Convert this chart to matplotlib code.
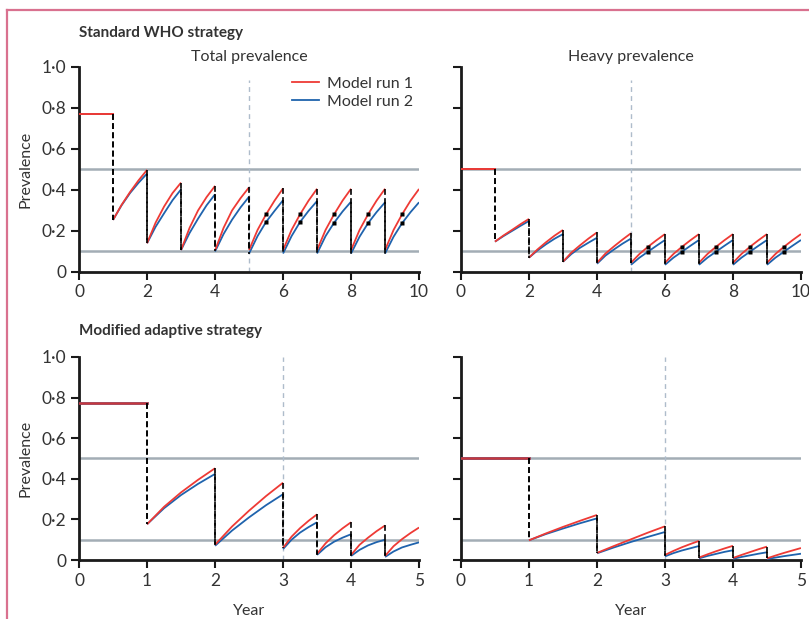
import numpy as np
import matplotlib
matplotlib.use("Agg")
import matplotlib.pyplot as plt
from matplotlib.lines import Line2D
from matplotlib.ticker import FuncFormatter

plt.rcParams['font.family'] = ['Lato', 'DejaVu Sans']

# ---------------- data ----------------
legend_labels = ["Model run 1", "Model run 2"]
panel_titles = ["Total prevalence", "Heavy prevalence"]
row_titles = ["Standard WHO strategy", "Modified adaptive strategy"]
thresholds = [0.5, 0.1]

# Standard WHO strategy (years 0-10)
who_flat_total = 0.77
who_flat_heavy = 0.50
who_seg_times = [1, 2, 3, 4, 5, 6, 7, 8, 9, 10]
who_total_run1 = [
    [0.254, 0.327, 0.390, 0.447, 0.498],
    [0.140, 0.240, 0.319, 0.385, 0.436],
    [0.107, 0.215, 0.300, 0.365, 0.420],
    [0.105, 0.215, 0.300, 0.360, 0.413],
    [0.107, 0.205, 0.281, 0.348, 0.408],
    [0.107, 0.205, 0.281, 0.348, 0.406],
    [0.107, 0.205, 0.281, 0.348, 0.406],
    [0.107, 0.205, 0.281, 0.348, 0.406],
    [0.107, 0.205, 0.281, 0.348, 0.405],
]
who_total_run2 = [
    [0.254, 0.325, 0.385, 0.435, 0.480],
    [0.140, 0.220, 0.286, 0.350, 0.403],
    [0.107, 0.190, 0.260, 0.325, 0.379],
    [0.100, 0.185, 0.255, 0.315, 0.367],
    [0.090, 0.175, 0.244, 0.298, 0.350],
    [0.090, 0.175, 0.244, 0.298, 0.346],
    [0.090, 0.175, 0.240, 0.295, 0.343],
    [0.090, 0.172, 0.238, 0.292, 0.340],
    [0.090, 0.172, 0.238, 0.292, 0.340],
]
who_heavy_run1 = [
    [0.148, 0.178, 0.205, 0.233, 0.259],
    [0.070, 0.110, 0.145, 0.177, 0.205],
    [0.050, 0.095, 0.130, 0.163, 0.193],
    [0.045, 0.090, 0.125, 0.158, 0.189],
    [0.045, 0.088, 0.123, 0.155, 0.185],
    [0.045, 0.088, 0.123, 0.155, 0.185],
    [0.045, 0.088, 0.123, 0.155, 0.185],
    [0.045, 0.088, 0.123, 0.155, 0.185],
    [0.045, 0.088, 0.123, 0.155, 0.185],
]
who_heavy_run2 = [
    [0.148, 0.175, 0.200, 0.225, 0.249],
    [0.070, 0.105, 0.135, 0.162, 0.185],
    [0.050, 0.088, 0.118, 0.143, 0.167],
    [0.040, 0.080, 0.110, 0.138, 0.163],
    [0.035, 0.070, 0.099, 0.128, 0.156],
    [0.035, 0.070, 0.099, 0.128, 0.156],
    [0.035, 0.070, 0.099, 0.128, 0.156],
    [0.035, 0.070, 0.099, 0.128, 0.156],
    [0.035, 0.070, 0.099, 0.128, 0.156],
]
who_dot_times = [5.5, 6.5, 7.5, 8.5, 9.5]
who_switch_year = 5

# Modified adaptive strategy (years 0-5)
mod_flat_total = 0.775
mod_flat_heavy = 0.50
mod_seg_times = [1, 2, 3, 3.5, 4, 4.5, 5]
mod_total_run1 = [
    [0.176, 0.262, 0.333, 0.395, 0.452],
    [0.075, 0.165, 0.243, 0.315, 0.381],
    [0.060, 0.115, 0.157, 0.193, 0.225],
    [0.030, 0.082, 0.122, 0.156, 0.186],
    [0.025, 0.075, 0.110, 0.142, 0.170],
    [0.020, 0.068, 0.103, 0.133, 0.160],
]
mod_total_run2 = [
    [0.176, 0.255, 0.320, 0.375, 0.424],
    [0.070, 0.145, 0.210, 0.270, 0.324],
    [0.054, 0.100, 0.135, 0.162, 0.186],
    [0.025, 0.063, 0.090, 0.110, 0.127],
    [0.020, 0.050, 0.072, 0.088, 0.100],
    [0.015, 0.042, 0.062, 0.075, 0.087],
]
mod_heavy_run1 = [
    [0.097, 0.131, 0.163, 0.193, 0.222],
    [0.035, 0.069, 0.102, 0.135, 0.166],
    [0.025, 0.045, 0.063, 0.079, 0.094],
    [0.012, 0.028, 0.043, 0.057, 0.070],
    [0.010, 0.025, 0.039, 0.053, 0.066],
    [0.008, 0.022, 0.035, 0.047, 0.059],
]
mod_heavy_run2 = [
    [0.097, 0.128, 0.155, 0.181, 0.205],
    [0.033, 0.062, 0.089, 0.114, 0.138],
    [0.018, 0.034, 0.047, 0.058, 0.069],
    [0.008, 0.020, 0.030, 0.040, 0.048],
    [0.006, 0.015, 0.023, 0.031, 0.038],
    [0.005, 0.012, 0.019, 0.025, 0.031],
]
mod_switch_year = 3

# ---------------- style ----------------
RED = '#ee3a35'
DARKRED = '#c8373d'
BLUE = '#1f63ad'
GREY = '#a3adb5'
VGREY = '#aebccb'
TXT = '#333333'
AX = '#1a1a1a'

fig = plt.figure(figsize=(8.09, 6.19), dpi=100)

W = 0.4203
positions = {
    (0, 0): [0.0977, 0.5606, W, 0.3312],
    (0, 1): [0.5698, 0.5606, W, 0.3312],
    (1, 0): [0.0977, 0.0953, W, 0.3280],
    (1, 1): [0.5698, 0.0953, W, 0.3280],
}

fmt = FuncFormatter(lambda v, p: '0' if abs(v) < 1e-9 else f'{v:.1f}'.replace('.', '\u00b7'))


def draw_panel(ax, flat, seg_times, run1, run2, xmax, xticks, switch, vtop,
               dots=None, ylab=True, flat_col=RED, flat_lw=1.4):
    for th in thresholds:
        ax.axhline(th, color=GREY, lw=1.8, zorder=1)
    ax.plot([switch, switch], [0, vtop], color=VGREY, lw=1.0,
            ls=(0, (3.5, 3)), zorder=1, clip_on=False)
    ax.plot([0, seg_times[0]], [flat, flat], color=BLUE, lw=flat_lw, zorder=3)
    ax.plot([0, seg_times[0]], [flat, flat], color=flat_col, lw=flat_lw, zorder=4)
    for run, col, z in ((run2, BLUE, 3), (run1, RED, 4)):
        prev_end = flat
        for i, vals in enumerate(run):
            t0, t1 = seg_times[i], seg_times[i + 1]
            xs = np.linspace(t0, t1, len(vals))
            ax.plot(xs, vals, color=col, lw=1.3, zorder=z,
                    solid_capstyle='butt', solid_joinstyle='round')
            ax.plot([t0, t0], [prev_end, vals[0]], color='black', lw=1.2,
                    ls=(0, (3.5, 2)), zorder=5)
            prev_end = vals[-1]
            if dots is not None:
                for d in dots:
                    if t0 < d < t1:
                        yd = np.interp(d, xs, vals)
                        ax.plot([d], [yd], marker='s', ms=3.2, color='black',
                                mec='none', zorder=6)
    ax.set_xlim(0, xmax)
    ax.set_ylim(0, 1.0)
    ax.set_xticks(xticks)
    ax.set_xticklabels([str(int(t)) for t in xticks])
    ax.set_yticks([0, 0.2, 0.4, 0.6, 0.8, 1.0])
    ax.yaxis.set_major_formatter(fmt)
    if not ylab:
        ax.set_yticklabels([])
    for s in ('top', 'right'):
        ax.spines[s].set_visible(False)
    for s in ('left', 'bottom'):
        ax.spines[s].set_linewidth(2.0)
        ax.spines[s].set_color(AX)
    ax.tick_params(direction='out', length=6, width=1.5, color=AX,
                   labelsize=12.5, labelcolor=TXT, pad=3)


axes = {}
for key, pos in positions.items():
    axes[key] = fig.add_axes(pos)

draw_panel(axes[(0, 0)], who_flat_total, who_seg_times, who_total_run1,
           who_total_run2, 10, [0, 2, 4, 6, 8, 10], who_switch_year, 0.935,
           dots=who_dot_times)
draw_panel(axes[(0, 1)], who_flat_heavy, who_seg_times, who_heavy_run1,
           who_heavy_run2, 10, [0, 2, 4, 6, 8, 10], who_switch_year, 0.935,
           dots=who_dot_times, ylab=False)
draw_panel(axes[(1, 0)], mod_flat_total, mod_seg_times, mod_total_run1,
           mod_total_run2, 5, [0, 1, 2, 3, 4, 5], mod_switch_year, 1.0,
           flat_col=DARKRED, flat_lw=1.8)
draw_panel(axes[(1, 1)], mod_flat_heavy, mod_seg_times, mod_heavy_run1,
           mod_heavy_run2, 5, [0, 1, 2, 3, 4, 5], mod_switch_year, 1.0,
           ylab=False, flat_col=DARKRED, flat_lw=1.8)

axes[(0, 0)].set_title(panel_titles[0], fontsize=11.5, color=TXT, pad=4)
axes[(0, 1)].set_title(panel_titles[1], fontsize=11.5, color=TXT, pad=4)
for r in (0, 1):
    axes[(r, 0)].set_ylabel('Prevalence', fontsize=11.5, color=TXT, labelpad=7)
for c in (0, 1):
    axes[(1, c)].set_xlabel('Year', fontsize=11.5, color=TXT, labelpad=11)

fig.text(79 / 809, 1 - 33 / 619, row_titles[0], fontsize=11, fontweight='bold',
         color=TXT, va='center', ha='left')
fig.text(79 / 809, 1 - 331 / 619, row_titles[1], fontsize=11, fontweight='bold',
         color=TXT, va='center', ha='left')

handles = [Line2D([], [], color=RED, lw=1.3), Line2D([], [], color=BLUE, lw=1.3)]
axes[(0, 0)].legend(handles, legend_labels, loc='upper right',
                    bbox_to_anchor=(1.0, 0.985), frameon=False, fontsize=11.5,
                    handlelength=1.7, handletextpad=0.45, labelspacing=0.25,
                    borderaxespad=0, labelcolor=TXT)

PINK = '#d9718f'
fig.add_artist(Line2D([7 / 809, 1.0], [1 - 10 / 619, 1 - 10 / 619],
                      color=PINK, lw=1.6, transform=fig.transFigure))
fig.add_artist(Line2D([7 / 809, 7 / 809], [0, 1 - 10 / 619],
                      color=PINK, lw=1.6, transform=fig.transFigure))

fig.savefig('out.png', dpi=100)
